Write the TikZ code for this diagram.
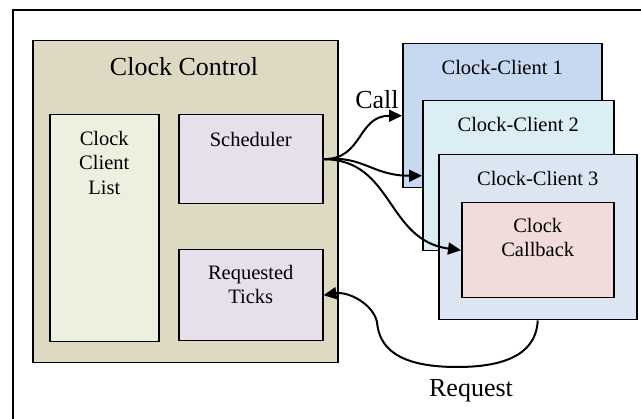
\documentclass[tikz,border=0pt]{standalone}
\usepackage{fontspec}
\setmainfont{Liberation Serif}
\usetikzlibrary{arrows.meta}

\definecolor{ctrlfill}{HTML}{DDD9C3}
\definecolor{listfill}{HTML}{EBF1DE}
\definecolor{modfill}{HTML}{E5E0EC}
\definecolor{clientA}{HTML}{C6D9F1}
\definecolor{clientB}{HTML}{DBEEF4}
\definecolor{clientC}{HTML}{DCE6F2}
\definecolor{cbfill}{HTML}{F2DCDB}

\tikzset{
  box/.style={draw=black, line width=1.5pt, rectangle, inner sep=0pt, anchor=north west},
  bigtext/.style={font=\fontsize{26}{30}\selectfont, inner sep=0pt},
  smalltext/.style={font=\fontsize{20.5}{24.5}\selectfont, align=center, inner sep=0pt},
  flow/.style={line width=2pt, -{Triangle[length=13pt, width=12pt]}},
}

\begin{document}
\begin{tikzpicture}[x=1pt, y=-1pt]
  \useasboundingbox (0,0) rectangle (641,419);

  % frame edges
  \draw[line width=2pt] (641,10.5) -- (12.5,10.5) -- (12.5,419);

  % clock control block
  \node[box, fill=ctrlfill, minimum width=305pt, minimum height=322pt] (ctrl) at (32,40) {};
  \node[bigtext, anchor=base] (ctrltitle) at (184,76) {Clock Control};

  \node[box, fill=listfill, minimum width=109pt, minimum height=227pt] (list) at (49,114) {};
  \node[smalltext, anchor=north] (listtext) at ([yshift=-17pt]list.north) {Clock\\Client\\List};

  \node[box, fill=modfill, minimum width=144pt, minimum height=89pt] (sched) at (178,114) {};
  \node[smalltext, anchor=north] (schedtext) at ([yshift=-18pt]sched.north) {Scheduler};

  \node[box, fill=modfill, minimum width=144pt, minimum height=91pt] (ticks) at (178,249) {};
  \node[smalltext, anchor=north] (tickstext) at ([yshift=-16pt]ticks.north) {Requested\\Ticks};

  % clock clients
  \node[box, fill=clientA, minimum width=199pt, minimum height=144pt] (cc1) at (402,43) {};
  \node[smalltext, anchor=north] (cc1text) at ([yshift=-17pt]cc1.north) {Clock-Client 1};

  \node[box, fill=clientB, minimum width=191pt, minimum height=150pt] (cc2) at (422,100) {};
  \node[smalltext, anchor=north] (cc2text) at ([yshift=-17pt]cc2.north) {Clock-Client 2};

  \node[box, fill=clientC, minimum width=198pt, minimum height=165pt] (cc3) at (438,154) {};
  \node[smalltext, anchor=north] (cc3text) at ([yshift=-17pt]cc3.north) {Clock-Client 3};

  \node[box, fill=cbfill, minimum width=152pt, minimum height=95pt] (cb) at (461,202) {};
  \node[smalltext, anchor=north] (cbtext) at ([yshift=-16pt]cb.north) {Clock\\Callback};

  % calls from the scheduler
  \draw[flow] (sched.east) .. controls +(40,0) and +(-45,0) .. (cc1.west);
  \draw[flow] (sched.east) .. controls +(40,-4) and +(-50,0) .. (cc2.west);
  \draw[flow] (sched.east) .. controls +(70,0) and +(-75,-10) .. (cb.west);
  \node[bigtext, anchor=base] (calltext) at (377,109) {Call};

  % request back to the ticks table
  \coordinate (reqlow) at (457,367);
  \coordinate (reqbend) at (377,322);
  \draw[flow] (cc3.south) .. controls +(-2,40) and +(35,0) .. (reqlow)
        .. controls +(-60,0) and +(2,25) .. (reqbend)
        .. controls +(-4,-18) and +(25,-4) .. (ticks.east);
  \node[bigtext, anchor=base] (reqtext) at (471,397) {Request};
\end{tikzpicture}
\end{document}
